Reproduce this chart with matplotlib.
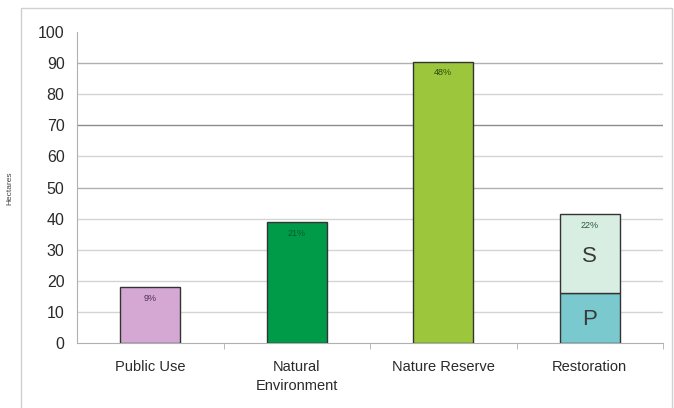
import matplotlib.pyplot as plt
from matplotlib.patches import Rectangle
import numpy as np

plt.rcParams["font.family"] = ["Liberation Sans", "DejaVu Sans"]

CATEGORIES = ["Public Use", "Natural\nEnvironment", "Nature Reserve", "Restoration"]
HECTARES = [18, 39, 90.5, None]
PCT_LABELS = ["9%", "21%", "48%", "22%"]
RESTORATION_P = 16
RESTORATION_S = 25.5
BAR_COLORS = ["#D5A8D4", "#009B48", "#9CC63B"]
P_COLOR = "#79C9CF"
S_COLOR = "#D8EEE2"

fig = plt.figure(figsize=(6.74, 4.08), dpi=100)
fig.patches.append(Rectangle((21 / 674, -0.05), (672 - 21) / 674, 1.05 - 8 / 408,
                             transform=fig.transFigure, fill=False,
                             edgecolor="#D0D0D0", linewidth=1.0))
ax = fig.add_axes([77 / 674, 1 - 343 / 408, (663 - 77) / 674, (343 - 32) / 408])

x = np.arange(len(CATEGORIES))
width = 0.41

# grid lines (some darker as in the original)
for v in range(10, 100, 10):
    col = "#8C8C8C" if v == 70 else ("#B0B0B0" if v in (90, 50) else "#D4D4D4")
    ax.axhline(v, color=col, linewidth=1.0, zorder=0)

for i in range(3):
    ax.bar(x[i], HECTARES[i], width, color=BAR_COLORS[i], edgecolor="#333333",
           linewidth=1.0, zorder=3)
ax.bar(x[3], RESTORATION_P, width, color=P_COLOR, edgecolor="#333333", linewidth=1.0, zorder=3)
ax.bar(x[3], RESTORATION_S, width, bottom=RESTORATION_P, color=S_COLOR,
       edgecolor="#333333", linewidth=1.0, zorder=3)

tops = [HECTARES[0], HECTARES[1], HECTARES[2], RESTORATION_P + RESTORATION_S]
lab_cols = ["#4A3050", "#0F5A2A", "#2E4A10", "#2A5A3A"]
for i, (t, lab) in enumerate(zip(tops, PCT_LABELS)):
    ax.text(x[i], t - 2.2, lab, ha="center", va="top", fontsize=6.5,
            color=lab_cols[i], zorder=4)
ax.text(x[3], RESTORATION_P + RESTORATION_S / 2 - 1, "S", ha="center", va="center",
        fontsize=16, color="#3A3A3A", zorder=4)
ax.text(x[3], RESTORATION_P / 2 - 0.5, "P", ha="center", va="center",
        fontsize=16, color="#3A3A3A", zorder=4)

ax.set_xlim(-0.5, 3.5)
ax.set_ylim(0, 100)
ax.set_yticks(range(0, 101, 10))
ax.tick_params(axis="y", length=0, labelsize=11.5, colors="#2A2A2A", pad=9)
ax.set_xticks(x)
ax.set_xticklabels(CATEGORIES, fontsize=10.5, color="#2A2A2A", linespacing=1.5)
ax.tick_params(axis="x", length=0, pad=12)
ax.set_xticks([0.5, 1.5, 2.5, 3.5], minor=True)
ax.tick_params(axis="x", which="minor", length=4, color="#B0B0B0", direction="out")

for s in ("top", "right"):
    ax.spines[s].set_visible(False)
ax.spines["left"].set_color("#B0B0B0")
ax.spines["bottom"].set_color("#B0B0B0")

fig.text(10 / 674, 1 - 188 / 408, "Hectares", rotation=90, ha="center", va="center",
         fontsize=6, color="#444444")

fig.savefig("out.png", dpi=100)
